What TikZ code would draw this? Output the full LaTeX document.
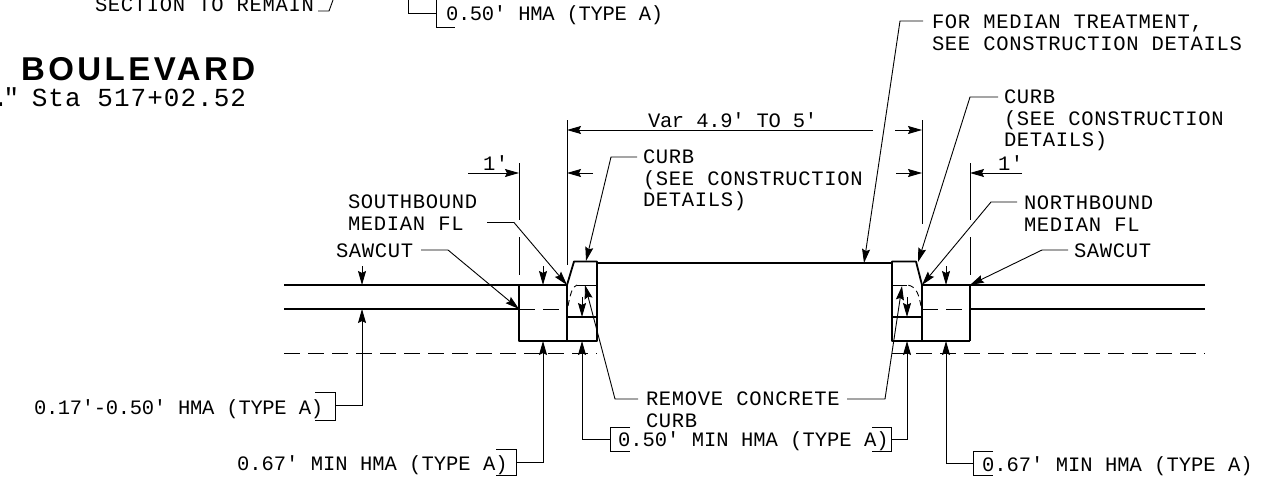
\documentclass[tikz,border=0pt]{standalone}
\usepackage{fontspec}
\setmainfont[LetterSpace=3.4]{Liberation Mono}
\newfontfamily\hmafont[LetterSpace=0]{Liberation Mono}
\newfontfamily\tightfont[LetterSpace=-1.5]{Liberation Mono}
\newfontfamily\stafont[LetterSpace=4]{Liberation Mono}
\newfontfamily\titlefont[LetterSpace=10.5]{Liberation Sans}
\usetikzlibrary{arrows.meta}

\begin{document}
\begin{tikzpicture}[x=1pt,y=-1pt]
        \tikzstyle{every node}=[inner sep=0pt, outer sep=0pt, font=\fontsize{20.5}{21.5}\selectfont]
        \tikzstyle{lbl}=[anchor=base west]
        \tikzstyle{hma}=[anchor=base west, font=\hmafont\fontsize{20.5}{21.5}\selectfont]
        \tikzstyle{tight}=[anchor=base west, font=\tightfont\fontsize{20.5}{21.5}\selectfont]
        \tikzstyle{mlbl}=[anchor=north west, align=left]
        \tikzstyle{thick line}=[line width=1.8pt, line join=round]
        \tikzstyle{thin line}=[line width=0.9pt]
        \tikzstyle{dash line}=[line width=0.9pt, dash pattern=on 16pt off 8pt]
        \tikzstyle{tip}=[thin line, -{Stealth[length=14pt,width=8pt,inset=2pt]}]
        \useasboundingbox (0,0) rectangle (1274,487);
        % pavement and curb points
        \coordinate (roadTopL) at (284,285);
        \coordinate (roadMidL) at (284,309);
        \coordinate (roadLowL) at (284,353);
        \coordinate (sawL) at (519,285);
        \coordinate (sawLm) at (519,309);
        \coordinate (sawLb) at (519,341);
        \coordinate (flL) at (567,285);
        \coordinate (flLm) at (567,309);
        \coordinate (flLs) at (567,317);
        \coordinate (flLb) at (567,341);
        \coordinate (curbLa) at (574,261.5);
        \coordinate (curbLb) at (597,261.5);
        \coordinate (curbLc) at (597,263);
        \coordinate (curbLs) at (597,317);
        \coordinate (curbLd) at (597,341);
        \coordinate (curbLe) at (597,353);
        \coordinate (curbLt) at (597,285);
        \coordinate (curbLi) at (577,285);
        \coordinate (curbRc) at (892,263);
        \coordinate (curbRa) at (892,261.5);
        \coordinate (curbRb) at (916,261.5);
        \coordinate (curbRt) at (892,285);
        \coordinate (curbRi) at (907,285);
        \coordinate (curbRs) at (892,317);
        \coordinate (curbRd) at (892,341);
        \coordinate (curbRe) at (892,353);
        \coordinate (flR) at (922,285);
        \coordinate (flRm) at (922,309);
        \coordinate (flRs) at (922,317);
        \coordinate (flRb) at (922,341);
        \coordinate (sawR) at (970,285);
        \coordinate (sawRm) at (970,309);
        \coordinate (sawRb) at (970,341);
        \coordinate (roadTopR) at (1205,285);
        \coordinate (roadMidR) at (1205,309);
        \coordinate (roadLowR) at (1205,353);
        % labels
        \node [lbl] (secRemain) at (95,12) {SECTION TO REMAIN};
        \node [tight] (hmaTop) at (446,20.5) {0.50′ HMA (TYPE A)};
        \node [lbl,font=\titlefont\fontsize{33}{36}\selectfont\bfseries] (blvd) at (21,80.5) {BOULEVARD};
        \node [lbl,font=\stafont\fontsize{26}{30}\selectfont] (sta) at (-7,106.5) {.\kern-5pt"\kern-4pt\ Sta 517+02.52};
        \node [mlbl] (medTreat) at (932,15) {FOR MEDIAN TREATMENT,\\SEE CONSTRUCTION DETAILS};
        \node [mlbl] (curbRtxt) at (1004,90) {CURB\\(SEE CONSTRUCTION\\DETAILS)};
        \node [mlbl] (curbLtxt) at (643,150) {CURB\\(SEE CONSTRUCTION\\DETAILS)};
        \node [tight] (varDim) at (648,127) {Var 4.9′ TO 5′};
        \node [lbl] (oneL) at (483,170) {1′};
        \node [lbl] (oneR) at (998,170) {1′};
        \node [mlbl] (south) at (348,195) {SOUTHBOUND\\MEDIAN FL};
        \node [mlbl] (north) at (1024,196) {NORTHBOUND\\MEDIAN FL};
        \node [lbl] (sawLtxt) at (336,257) {SAWCUT};
        \node [lbl] (sawRtxt) at (1074,257) {SAWCUT};
        \node [mlbl] (remove) at (646,392) {REMOVE CONCRETE\\CURB};
        \node [tight] (hmaA) at (34,414) {0.17′-0.50′ HMA (TYPE A)};
        \node [hma] (hmaB) at (237,470) {0.67′ MIN HMA (TYPE A)};
        \node [hma] (hmaC) at (618,446.5) {0.50′ MIN HMA (TYPE A)};
        \node [hma] (hmaD) at (982,471) {0.67′ MIN HMA (TYPE A)};
        % road and curb lines
        \draw [thick line] (roadTopL) -- (flL) -- (curbLa) -- (curbLb) -- (curbLd) -- (sawLb) -- (sawL);
        \draw [thick line] (roadMidL) -- (sawLm);
        \draw [thick line] (flL) -- (flLb);
        \draw [thick line] (flLs) -- (curbLs);
        \draw [thick line] (curbLc) -- (curbRc);
        \draw [thick line] (curbRa) -- (curbRb) -- (flR) -- (flRb) -- (curbRd) -- cycle;
        \draw [thick line] (flR) -- (roadTopR);
        \draw [thick line] (sawR) -- (sawRb);
        \draw [thick line] (flRb) -- (sawRb);
        \draw [thick line] (sawRm) -- (roadMidR);
        \draw [thick line] (curbRs) -- (flRs);
        \draw [thin line] (curbLi) -- (curbLt);
        \draw [thin line] (curbRt) -- (curbRi);
        \draw [dash line] (sawLm) -- (flLm);
        \draw [dash line] (flRm) -- (sawRm);
        \draw [dash line] (roadLowL) -- (curbLe);
        \draw [dash line] (curbRe) -- (roadLowR);
        \draw [thin line, dash pattern=on 6pt off 4pt] (568,306) .. controls (570,296) and (572,286) .. (curbLi);
        \draw [thin line, dash pattern=on 6pt off 4pt] (921,306) .. controls (919,296) and (917,286) .. (curbRi);
        % extension lines
        \coordinate (extA) at (519,163);
        \coordinate (extAm) at (519,220);
        \coordinate (extAn) at (519,237);
        \coordinate (extAo) at (519,275);
        \coordinate (extB) at (567,120);
        \coordinate (extBo) at (567,265);
        \coordinate (extC) at (922,120);
        \coordinate (extCo) at (922,224);
        \coordinate (extD) at (970,163);
        \coordinate (extDm) at (970,220);
        \coordinate (extDn) at (970,237);
        \coordinate (extDo) at (970,275);
        \draw [thin line] (extA) -- (extAm) (extAn) -- (extAo);
        \draw [thin line] (extB) -- (extBo);
        \draw [thin line] (extC) -- (extCo);
        \draw [thin line] (extD) -- (extDm) (extDn) -- (extDo);
        % dimension arrows
        \coordinate (varA) at (567,130);
        \coordinate (varB) at (922,130);
        \coordinate (varBe) at (895,130);
        \coordinate (varC) at (873,130);
        \coordinate (oneLa) at (519,173);
        \coordinate (oneLb) at (468,173);
        \coordinate (oneLc) at (567,173);
        \coordinate (oneLd) at (593,173);
        \coordinate (oneRa) at (922,173);
        \coordinate (oneRb) at (896,173);
        \coordinate (oneRc) at (970,173);
        \coordinate (oneRd) at (1022,173);
        \draw [tip] (varC) -- (varA);
        \draw [tip] (varBe) -- (varB);
        \draw [tip] (oneLb) -- (oneLa);
        \draw [tip] (oneLd) -- (oneLc);
        \draw [tip] (oneRb) -- (oneRa);
        \draw [tip] (oneRd) -- (oneRc);
        % leaders
        \coordinate (medBend) at (900,21);
        \coordinate (medEnd) at (923,21);
        \coordinate (medTip) at (864,263);
        \draw [tip] (medEnd) -- (medBend) -- (medTip);
        \coordinate (curbRend) at (998,97);
        \coordinate (curbRbend) at (970,97);
        \coordinate (curbRtip) at (918,262);
        \draw [tip] (curbRend) -- (curbRbend) -- (curbRtip);
        \coordinate (curbLend) at (637,157);
        \coordinate (curbLbend) at (611,157);
        \coordinate (curbLtip) at (586,261);
        \draw [tip] (curbLend) -- (curbLbend) -- (curbLtip);
        \coordinate (southEnd) at (487,222.5);
        \coordinate (southBend) at (514,222.5);
        \draw [tip] (southEnd) -- (southBend) -- (flL);
        \coordinate (northEnd) at (1017,202);
        \coordinate (northBend) at (991,202);
        \draw [tip] (northEnd) -- (northBend) -- (flR);
        \coordinate (sawLend) at (421,250);
        \coordinate (sawLbend) at (448,250);
        \draw [tip] (sawLend) -- (sawLbend) -- (sawLm);
        \coordinate (sawRend) at (1068,250);
        \coordinate (sawRbend) at (1042,250);
        \draw [tip] (sawRend) -- (sawRbend) -- (sawR);
        \coordinate (remLbend) at (615,399);
        \coordinate (remLend) at (638,399);
        \coordinate (remLtip) at (585,285);
        \draw [tip] (remLend) -- (remLbend) -- (remLtip);
        \coordinate (remRbend) at (885,399);
        \coordinate (remRend) at (847,399);
        \coordinate (remRtip) at (902,286);
        \draw [tip] (remRend) -- (remRbend) -- (remRtip);
        % thickness arrows
        \coordinate (tkAa) at (362,266);
        \coordinate (tkAb) at (362,285);
        \coordinate (tkBa) at (543,266);
        \coordinate (tkBb) at (543,285);
        \coordinate (tkCa) at (582,297);
        \coordinate (tkCb) at (582,317);
        \coordinate (tkDa) at (907,297);
        \coordinate (tkDb) at (907,317);
        \coordinate (tkEa) at (946,266);
        \coordinate (tkEb) at (946,285);
        \draw [tip] (tkAa) -- (tkAb);
        \draw [tip] (tkBa) -- (tkBb);
        \draw [tip] (tkCa) -- (tkCb);
        \draw [tip] (tkDa) -- (tkDb);
        \draw [tip] (tkEa) -- (tkEb);
        % brackets and their arrows
        \coordinate (brA) at (335,405.5);
        \coordinate (brAt) at (362,309);
        \draw [thin line] (315,392) -| (335,420) -- (315,420);
        \draw [tip] (brA) -| (brAt);
        \coordinate (brB) at (516,462);
        \coordinate (brBt) at (543,341);
        \draw [thin line] (496,449) -| (516,475) -- (496,475);
        \draw [tip] (brB) -| (brBt);
        \coordinate (brC) at (610,439);
        \coordinate (brCt) at (582,341);
        \draw [thin line] (630,427) -| (610,451) -- (630,451);
        \draw [tip] (brC) -| (brCt);
        \coordinate (brD) at (891,439);
        \coordinate (brDt) at (907,341);
        \draw [thin line] (872,427) -| (891,451) -- (872,451);
        \draw [tip] (brD) -| (brDt);
        \coordinate (brE) at (973,463);
        \coordinate (brEt) at (946,341);
        \draw [thin line] (993,451.5) -| (973,475) -- (993,475);
        \draw [tip] (brE) -| (brEt);
        \coordinate (brF) at (436,13.5);
        \coordinate (brFt) at (408,13.5);
        \coordinate (brFu) at (408,0);
        \draw [thin line] (436,0) -- (436,27.5) -- (455,27.5);
        \draw [thin line] (brF) -- (brFt) -- (brFu);
        \coordinate (secEnd) at (318,11);
        \coordinate (secBend) at (329,11);
        \coordinate (secUp) at (333,0);
        \draw [thin line] (secEnd) -- (secBend) -- (secUp);
    \end{tikzpicture}
\end{document}
